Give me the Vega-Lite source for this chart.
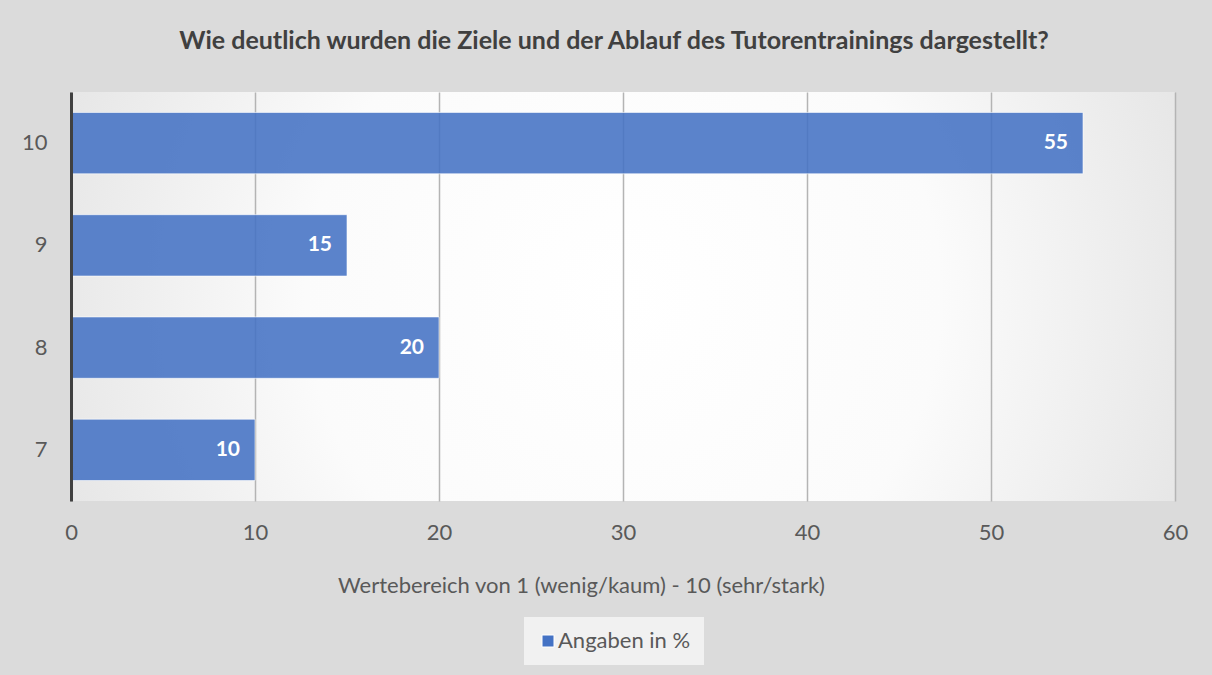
{
  "$schema": "https://vega.github.io/schema/vega-lite/v6.json",
  "width": 1104,
  "height": 409,
  "autosize": {"type": "none"},
  "padding": {"left": 71, "top": 92, "right": 37, "bottom": 174},
  "background": "#DBDBDB",
  "view": {
    "stroke": null,
    "fill": {
      "gradient": "radial",
      "x1": 0.5, "y1": 0.5, "r1": 0,
      "x2": 0.5, "y2": 0.5, "r2": 0.72,
      "stops": [
        {"offset": 0, "color": "#ffffff"},
        {"offset": 0.4, "color": "#fbfbfb"},
        {"offset": 0.75, "color": "#e6e6e6"},
        {"offset": 1, "color": "#dbdbdb"}
      ]
    }
  },
  "title": {
    "text": "Wie deutlich wurden die Ziele und der Ablauf des Tutorentrainings dargestellt?",
    "font": "Lato",
    "fontSize": 25,
    "fontWeight": "bold",
    "color": "#404040",
    "anchor": "middle",
    "baseline": "alphabetic",
    "offset": 18,
    "dx": -9
  },
  "data": {
    "values": [
      {"Bewertung": 10, "Anteil": 55, "Reihe": "Angaben in %"},
      {"Bewertung": 9, "Anteil": 15, "Reihe": "Angaben in %"},
      {"Bewertung": 8, "Anteil": 20, "Reihe": "Angaben in %"},
      {"Bewertung": 7, "Anteil": 10, "Reihe": "Angaben in %"}
    ]
  },
  "encoding": {
    "y": {
      "field": "Bewertung",
      "type": "ordinal",
      "sort": "descending",
      "scale": {"paddingInner": 0.4, "paddingOuter": 0.2},
      "axis": {
        "title": null,
        "grid": false,
        "ticks": false,
        "tickSize": 0,
        "domainColor": "#404040",
        "domainWidth": 3,
        "labelPadding": 24,
        "labelFont": "Lato",
        "labelFontSize": 22,
        "labelColor": "#595959",
        "zindex": 1
      }
    },
    "x": {
      "field": "Anteil",
      "type": "quantitative",
      "scale": {"domain": [0, 60]},
      "axis": {
        "values": [0, 10, 20, 30, 40, 50, 60],
        "title": "Wertebereich von 1 (wenig/kaum) - 10 (sehr/stark)",
        "grid": true,
        "gridColor": "#B4B4B4",
        "gridWidth": 1.5,
        "domain": false,
        "ticks": false,
        "tickSize": 0,
        "labelFlush": false,
        "labelPadding": 31,
        "labelBaseline": "middle",
        "labelFont": "Lato",
        "labelFontSize": 22,
        "labelColor": "#595959",
        "titleFont": "Lato",
        "titleFontSize": 22,
        "titleFontWeight": "normal",
        "titleColor": "#595959",
        "titleBaseline": "middle",
        "titleX": 510,
        "titleY": 84
      }
    }
  },
  "layer": [
    {
      "mark": {
        "type": "bar",
        "fillOpacity": 0.88,
        "stroke": "#ffffff",
        "strokeOpacity": 0.6,
        "strokeWidth": 1
      },
      "encoding": {
        "color": {
          "field": "Reihe",
          "type": "nominal",
          "scale": {"range": ["#4472C4"]},
          "legend": {
            "title": null,
            "orient": "none",
            "legendX": 453,
            "legendY": 525,
            "fillColor": "#F1F1F1",
            "padding": 13,
            "symbolType": "square",
            "symbolSize": 144,
            "symbolStrokeColor": "#ffffff",
            "symbolStrokeWidth": 1,
            "labelFont": "Lato",
            "labelFontSize": 22,
            "labelColor": "#595959",
            "labelOffset": -1
          }
        }
      }
    },
    {
      "mark": {
        "type": "text",
        "align": "right",
        "baseline": "middle",
        "dx": -15,
        "font": "Lato",
        "fontSize": 21,
        "fontWeight": "bold",
        "color": "#ffffff"
      },
      "encoding": {
        "text": {"field": "Anteil", "type": "quantitative"}
      }
    }
  ]
}
